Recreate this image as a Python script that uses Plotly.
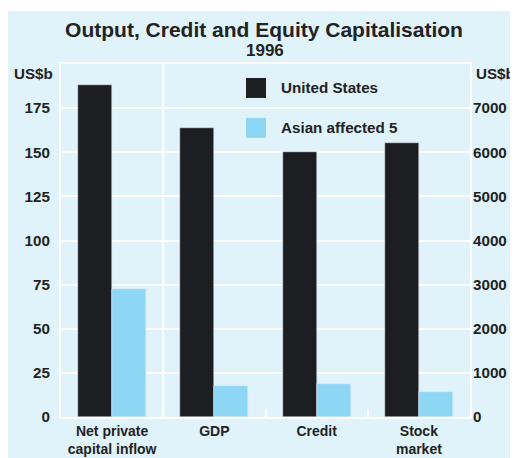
import plotly.graph_objects as go

# ---- data ----
categories = ["Net private<br>capital inflow", "GDP", "Credit", "Stock<br>market"]
series_names = ["United States", "Asian affected 5"]
# first category on left axis (US$b), remaining on right axis (US$b)
us_left = [188]
asia_left = [72.5]
us_right = [6540, 6000, 6200]
asia_right = [710, 750, 575]
left_ticks = [0, 25, 50, 75, 100, 125, 150, 175]
right_ticks = [0, 1000, 2000, 3000, 4000, 5000, 6000, 7000]

US_COL = "#1d1e22"
AS_COL = "#8dd7f5"
BG = "#e0f2fa"
FONT = "Liberation Sans, Arial, sans-serif"
FS = 15.2

# page is rendered with the browser's default 8px body margin
OFF = 8
W, H = 510, 450
L, R, T, B = 61 - OFF, 518 - 470, 64 - OFF, 458 - 417.5
PW, PH = W - L - R, H - T - B


def py(page_y):
    return (H - B - (page_y - OFF)) / PH


def px(page_x):
    return (page_x - OFF - L) / PW


fig = go.Figure()
fig.add_trace(go.Bar(x=categories[:1], y=us_left, name=series_names[0], marker_color=US_COL,
                     width=1/3, offset=-1/3, yaxis="y", showlegend=False))
fig.add_trace(go.Bar(x=categories[:1], y=asia_left, name=series_names[1], marker_color=AS_COL,
                     width=1/3, offset=0, yaxis="y", showlegend=False))
fig.add_trace(go.Bar(x=categories[1:], y=us_right, name=series_names[0], marker_color=US_COL,
                     width=1/3, offset=-1/3, yaxis="y2", showlegend=False))
fig.add_trace(go.Bar(x=categories[1:], y=asia_right, name=series_names[1], marker_color=AS_COL,
                     width=1/3, offset=0, yaxis="y2", showlegend=False))

tick_font = dict(family=FONT, size=FS, color="#222", weight="bold")
cat_font = dict(family=FONT, size=14, color="#222", weight="bold")

fig.update_layout(
    width=W, height=H,
    margin=dict(l=L, r=R, t=T, b=B, autoexpand=False),
    paper_bgcolor=BG,
    plot_bgcolor=BG,
    font=dict(family=FONT),
    title=dict(text="Output, Credit and Equity Capitalisation", x=px(264), xref="paper",
               xanchor="center", y=1 - (30 - OFF) / H, yanchor="middle", yref="container",
               font=dict(family=FONT, size=21, color="#222", weight="bold")),
    xaxis=dict(type="category", categoryorder="array", categoryarray=categories,
               range=[-0.5, 3.5], showgrid=False, zeroline=False,
               showline=True, mirror=True, linecolor="white", linewidth=2,
               ticks="inside", tickson="boundaries", ticklen=8, tickcolor="white", tickwidth=2,
               tickangle=0, tickfont=cat_font, automargin=False),
    yaxis=dict(range=[0, 200], tickvals=left_ticks, showgrid=True, gridcolor="white", gridwidth=2,
               zeroline=False, showline=True, mirror=True, linecolor="white", linewidth=2,
               ticks="", tickfont=tick_font, ticklabelstandoff=6, automargin=False),
    yaxis2=dict(range=[0, 8000], tickvals=right_ticks, overlaying="y", side="right",
                showgrid=False, zeroline=False, showline=False, ticks="", tickfont=tick_font,
                ticklabelstandoff=2, automargin=False),
    bargap=0, showlegend=False,
)

shapes = [
    # thin white strips where the reference panel does not reach the edge
    dict(type="rect", xref="paper", yref="paper", x0=px(0), x1=px(600),
         y0=py(11), y1=py(0), fillcolor="white", line=dict(width=0)),
    dict(type="rect", xref="paper", yref="paper", x0=px(516), x1=px(600),
         y0=py(500), y1=py(0), fillcolor="white", line=dict(width=0)),
    # separator between the two axis groups
    dict(type="line", xref="x", yref="paper", x0=0.5, x1=0.5, y0=0, y1=1,
         line=dict(color="white", width=2), layer="below"),
]

# manual legend swatches
for i, col in enumerate([US_COL, AS_COL]):
    yc = 88 + 40 * i
    shapes.append(dict(type="rect", xref="paper", yref="paper",
                       x0=px(246), x1=px(266), y0=py(yc + 10), y1=py(yc - 10),
                       fillcolor=col, line=dict(width=0)))
fig.update_layout(shapes=shapes)

annotations = [
    dict(text="1996", xref="paper", yref="paper", x=px(265), y=py(50),
         showarrow=False, font=dict(family=FONT, size=17, color="#222", weight="bold"),
         yanchor="middle"),
    dict(text="US$b", xref="paper", yref="paper", x=px(55), xanchor="right",
         y=py(74), yanchor="middle", showarrow=False, font=tick_font),
    dict(text="US$b", xref="paper", yref="paper", x=px(474), xanchor="left",
         y=py(74), yanchor="middle", showarrow=False, font=tick_font),
]
for i, nm in enumerate(series_names):
    yc = 88 + 40 * i
    annotations.append(dict(text=nm, xref="paper", yref="paper", x=px(279),
                            xanchor="left", y=py(yc), yanchor="middle",
                            showarrow=False, font=tick_font))
fig.update_layout(annotations=annotations)

fig.write_html("out.html")
